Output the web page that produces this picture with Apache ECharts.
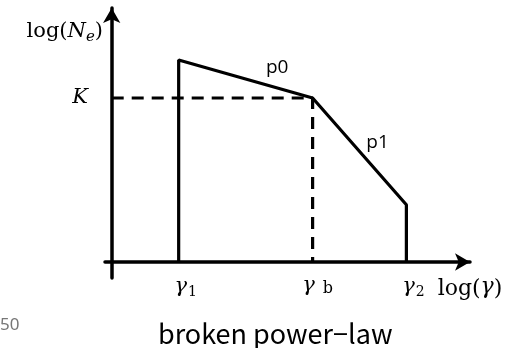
<!DOCTYPE html>
<html><head><meta charset="utf-8">
<script src="https://cdn.jsdelivr.net/npm/echarts@6/dist/echarts.min.js"></script>
<style>html,body{margin:0;padding:0;background:#fff}#c{width:520px;height:348px}</style>
</head><body><div id="c"></div>
<script>
// Spectrum shape (log gamma, log N_e)
const curveX = [1, 1, 3, 4.4, 4.4];
const curveY = [0, 5.05, 4.1, 1.43, 0];
// Reference dashed guide to break point
const guideX = [0, 3, 3];
const guideY = [4.1, 4.1, 0];
// Axis label positions and texts
const xTickValues = [1, 3, 4.4, 5.35];
const xTickLabels = ['γ1', 'γb', 'γ2', 'log(γ)'];
const yTickValues = [4.1, 5.75];
const yTickLabels = ['K', 'log(Ne)'];
// Segment index annotations
const segNames = ['p0', 'p1'];
const segX = [2.47, 3.97];
const segY = [4.85, 2.98];

const serif = '"DejaVu Serif", "Liberation Serif", serif';
const chart = echarts.init(document.getElementById('c'), null, {renderer: 'canvas'});
const zip = (a, b) => a.map((v, i) => [v, b[i]]);

const xRich = {
  g: {fontFamily: serif, fontStyle: 'italic', fontSize: 21, color: '#000', padding: [0, 0, 0, 14]},
  gb: {fontFamily: serif, fontStyle: 'italic', fontSize: 21, color: '#000', padding: [0, 0, 0, 10]},
  gp: {fontFamily: serif, fontStyle: 'italic', fontSize: 22, color: '#000'},
  s: {fontFamily: serif, fontSize: 14, color: '#000', padding: [10, 0, 0, 1]},
  b: {fontFamily: serif, fontSize: 16, color: '#000', padding: [6, 0, 0, 8]},
  r: {fontFamily: serif, fontSize: 22, color: '#000', padding: [3, 0, 0, 0]}
};
const yRich = {
  k: {fontFamily: serif, fontStyle: 'italic', fontSize: 21, color: '#000', padding: [0, 15, 0, 0]},
  r: {fontFamily: serif, fontSize: 21, color: '#000'},
  i: {fontFamily: serif, fontStyle: 'italic', fontSize: 21, color: '#000'},
  e: {fontFamily: serif, fontStyle: 'italic', fontSize: 15, color: '#000', padding: [10, 0, 0, 0]}
};

function xFmt(v) {
  const i = xTickValues.indexOf(v);
  const t = xTickLabels[i];
  if (t === 'γ1') return '{g|γ}{s|1}';
  if (t === 'γ2') return '{g|γ}{s|2}';
  if (t === 'γb') return '{gb|γ}{b|b}';
  return '{r|log(}{gp|γ}{r|)}';
}
function yFmt(v) {
  const i = yTickValues.indexOf(v);
  const t = yTickLabels[i];
  if (t === 'K') return '{k|K}';
  return '{r|log(}{i|N}{e|e}{r|)}';
}

chart.setOption({
  backgroundColor: '#fff',
  animation: false,
  title: {
    text: 'broken power\u2212law',
    left: 153, top: 315,
    textStyle: {fontFamily: '"Noto Sans CJK JP", "Noto Sans", sans-serif', fontSize: 27, fontWeight: 'normal', color: '#000'}
  },
  graphic: [{
    type: 'text', left: 0, top: 317,
    style: {text: '50', fontSize: 17, fill: '#777', fontFamily: '"Noto Sans", sans-serif'}
  }],
  grid: {left: 105, top: 8, width: 365, height: 270, containLabel: false},
  xAxis: {
    type: 'value', min: -0.1, max: 5.35,
    axisLine: {onZero: true, lineStyle: {color: '#000', width: 3.5}, symbol: ['none', 'arrow'], symbolSize: [13, 15]},
    axisTick: {show: false},
    splitLine: {show: false},
    axisLabel: {customValues: xTickValues, formatter: xFmt, rich: xRich, margin: -3, color: '#000', showMaxLabel: true, hideOverlap: false}
  },
  yAxis: {
    type: 'value', min: -0.4, max: 6.35,
    axisLine: {onZero: true, lineStyle: {color: '#000', width: 3.5}, symbol: ['none', 'arrow'], symbolSize: [13, 15]},
    axisTick: {show: false},
    splitLine: {show: false},
    axisLabel: {customValues: yTickValues, formatter: yFmt, rich: yRich, margin: 2, color: '#000'}
  },
  series: [
    {type: 'line', data: zip(curveX, curveY), symbol: 'none', lineStyle: {color: '#000', width: 3.2}, z: 5},
    {type: 'line', data: zip(guideX, guideY), symbol: 'none', lineStyle: {color: '#000', width: 3.2, type: [12, 8]}, z: 4},
    {type: 'scatter', data: zip(segX, segY).map((p, i) => ({value: p, name: segNames[i]})), symbolSize: 0,
     itemStyle: {opacity: 1, color: '#000'},
     label: {show: true, position: 'inside', formatter: '{b}', fontFamily: '"Open Sans", sans-serif', fontSize: 19, color: '#000', textBorderWidth: 0}}
  ]
});
</script></body></html>
